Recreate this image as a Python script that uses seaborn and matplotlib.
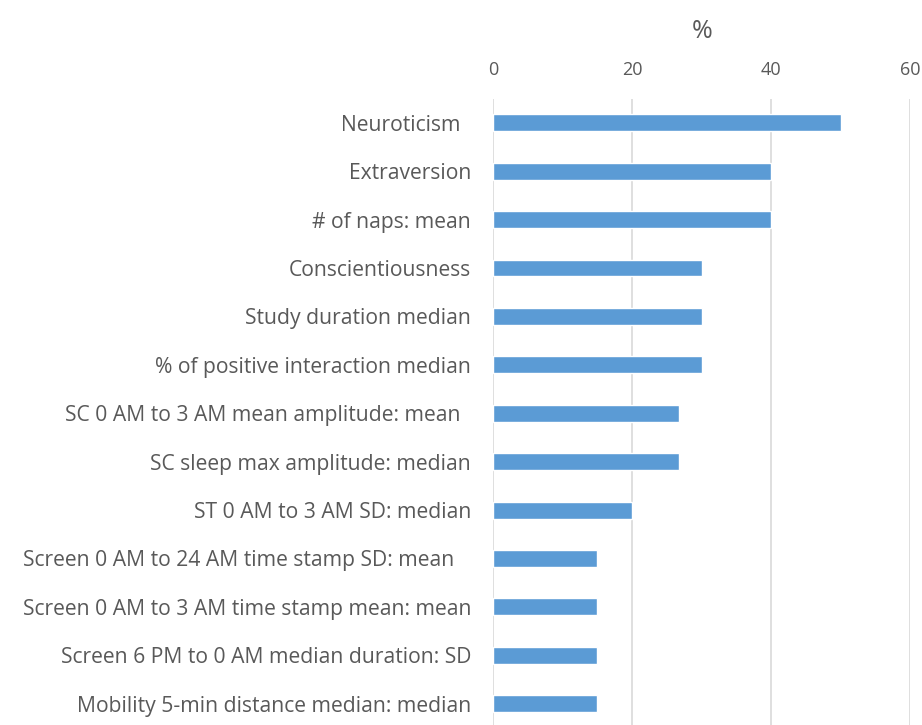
import pandas as pd
import matplotlib.pyplot as plt
import seaborn as sns

# data
fitur = [
    "Neuroticism  ",
    "Extraversion",
    "# of naps: mean",
    "Conscientiousness",
    "Study duration median",
    "% of positive interaction median",
    "SC 0 AM to 3 AM mean amplitude: mean  ",
    "SC sleep max amplitude: median",
    "ST 0 AM to 3 AM SD: median",
    "Screen 0 AM to 24 AM time stamp SD: mean   ",
    "Screen 0 AM to 3 AM time stamp mean: mean",
    "Screen 6 PM to 0 AM median duration: SD",
    "Mobility 5-min distance median: median",
]
persen = [50, 40, 40, 30, 30, 30, 26.7, 26.7, 20, 15, 15, 15, 15]
x_ticks = [0, 20, 40, 60]

df = pd.DataFrame({"fitur": fitur, "persen": persen})

sns.set_style("white")
plt.rcParams["font.family"] = ["Open Sans", "DejaVu Sans"]

fig = plt.figure(figsize=(9.22, 7.25), dpi=100)
ax = fig.add_axes([0.535, -0.004, 0.452, 0.868])

sns.barplot(data=df, x="persen", y="fitur", color="#5B9BD5", width=0.35,
            saturation=1, ax=ax, zorder=3)

ax.set_xlim(0, 60)
ax.set_xticks(x_ticks)
ax.xaxis.tick_top()
ax.xaxis.set_label_position("top")
ax.set_xlabel("%", fontsize=18, color="#595959", labelpad=17)
ax.set_ylabel("")
ax.grid(axis="x", color="#D9D9D9", linewidth=1.2, zorder=0)
ax.tick_params(axis="x", length=0, pad=14, labelsize=13, colors="#595959")
ax.tick_params(axis="y", length=0, pad=16, labelsize=15.2, colors="#595959")
for s in ax.spines.values():
    s.set_visible(False)

plt.savefig("out.png", dpi=100)
